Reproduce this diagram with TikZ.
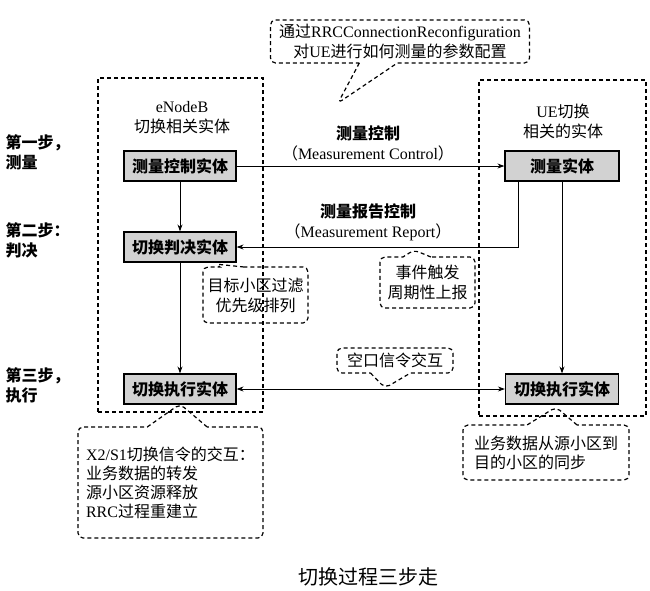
\documentclass[tikz,border=0pt]{standalone}
\usepackage{fontspec}
\setmainfont{Noto Sans CJK SC}
\newfontfamily\en{Liberation Serif}
\usetikzlibrary{arrows.meta,shapes.callouts}

\begin{document}
\begin{tikzpicture}[x=1pt,y=-1pt,font=\fontsize{16}{20}\selectfont,
  entity/.style={draw,line width=1.2pt,fill=gray!35,minimum width=112pt,minimum height=30pt,font=\fontsize{16}{20}\selectfont\bfseries},
  group/.style={draw,line width=1.2pt,dash pattern=on 4pt off 3pt},
  note/.style={rectangle callout,draw,line width=1.2pt,dash pattern=on 4pt off 3pt,rounded corners=5pt,callout pointer width=30pt,inner sep=3pt,align=center},
  steplbl/.style={anchor=west,align=left,font=\fontsize{16}{20}\selectfont\bfseries},
  link/.style={-{Stealth[length=7pt,width=5pt]},line width=0.9pt}]
  \useasboundingbox (0,0) rectangle (650,590);
  % the two sides
  \node[group,minimum width=165pt,minimum height=334pt] (enbgrp) at (180.5,245) {};
  \node[group,minimum width=167pt,minimum height=336pt] (uegrp) at (562.5,248) {};
  \node[align=center] (enblbl) at (182,118) {{\en eNodeB}\\切换相关实体};
  \node[align=center] (uelbl) at (563,121) {{\en UE}切换\\相关的实体};
  % steps
  \node[steplbl] (step1) at (2,152) {第一步，\\测量};
  \node[steplbl] (step2) at (2,240) {第二步：\\判决};
  \node[steplbl] (step3) at (2,385) {第三步，\\执行};
  % entities
  \node[entity] (mctrl) at (180,166) {测量控制实体};
  \node[entity,minimum width=114pt] (meas) at (562,166) {测量实体};
  \node[entity] (decide) at (180,247) {切换判决实体};
  \node[entity] (exec) at (180,389) {切换执行实体};
  \node[entity,minimum width=113pt] (uexec) at (562,389) {切换执行实体};
  \node[align=center] (ctrllbl) at (368,143) {\textbf{测量控制}\\（{\en Measurement Control}）};
  \node[align=center] (rptlbl) at (368,222) {\textbf{测量报告控制}\\（{\en Measurement Report}）};
  \coordinate (rptturn) at (518,247);
  \draw[link] (mctrl) -- (meas);
  \draw[link] (mctrl) -- (decide);
  \draw[link] (decide) -- (exec);
  \draw[link] (meas.south -| rptturn) -- (rptturn) -- (decide.east);
  \draw[link] (meas) -- (uexec);
  \draw[{Stealth[length=7pt,width=5pt]}-{Stealth[length=7pt,width=5pt]},line width=0.9pt] (exec) -- (uexec);
  % notes
  \node[note,minimum width=259pt,minimum height=43pt,callout pointer width=38pt,callout absolute pointer={(338,103)}] (cfgnote) at (400,41.5)
    {通过{\en RRCConnectionReconfiguration}\\对{\en UE}进行如何测量的参数配置};
  \node[note,minimum width=105pt,minimum height=56pt,callout pointer width=24pt,callout absolute pointer={(215,264)}] (fltnote) at (255.5,295) {目标小区过滤\\优先级排列};
  \node[note,minimum width=95pt,minimum height=51pt,callout pointer width=28pt,callout absolute pointer={(414,250)}] (rptnote) at (427.5,282.5) {事件触发\\周期性上报};
  \node[note,minimum width=116pt,minimum height=25pt,callout pointer width=40pt,callout absolute pointer={(385,388)}] (airnote) at (395,360.5) {空口信令交互};
  \node[note,align=left,minimum width=185pt,minimum height=111pt,callout pointer width=60pt,callout absolute pointer={(180,404)},font=\fontsize{16}{19}\selectfont] (x2note) at (170.5,482.5)
    {{\en X2/S1}切换信令的交互：\\业务数据的转发\\源小区资源释放\\{\en RRC}过程重建立};
  \node[note,align=left,minimum width=166pt,minimum height=55pt,callout pointer width=50pt,callout absolute pointer={(556,407)},font=\fontsize{16}{19}\selectfont] (syncnote) at (546,452.5)
    {业务数据从源小区到\\目的小区的同步};
  \node[font=\fontsize{20}{24}\selectfont] (title) at (368,577) {切换过程三步走};
\end{tikzpicture}
\end{document}
